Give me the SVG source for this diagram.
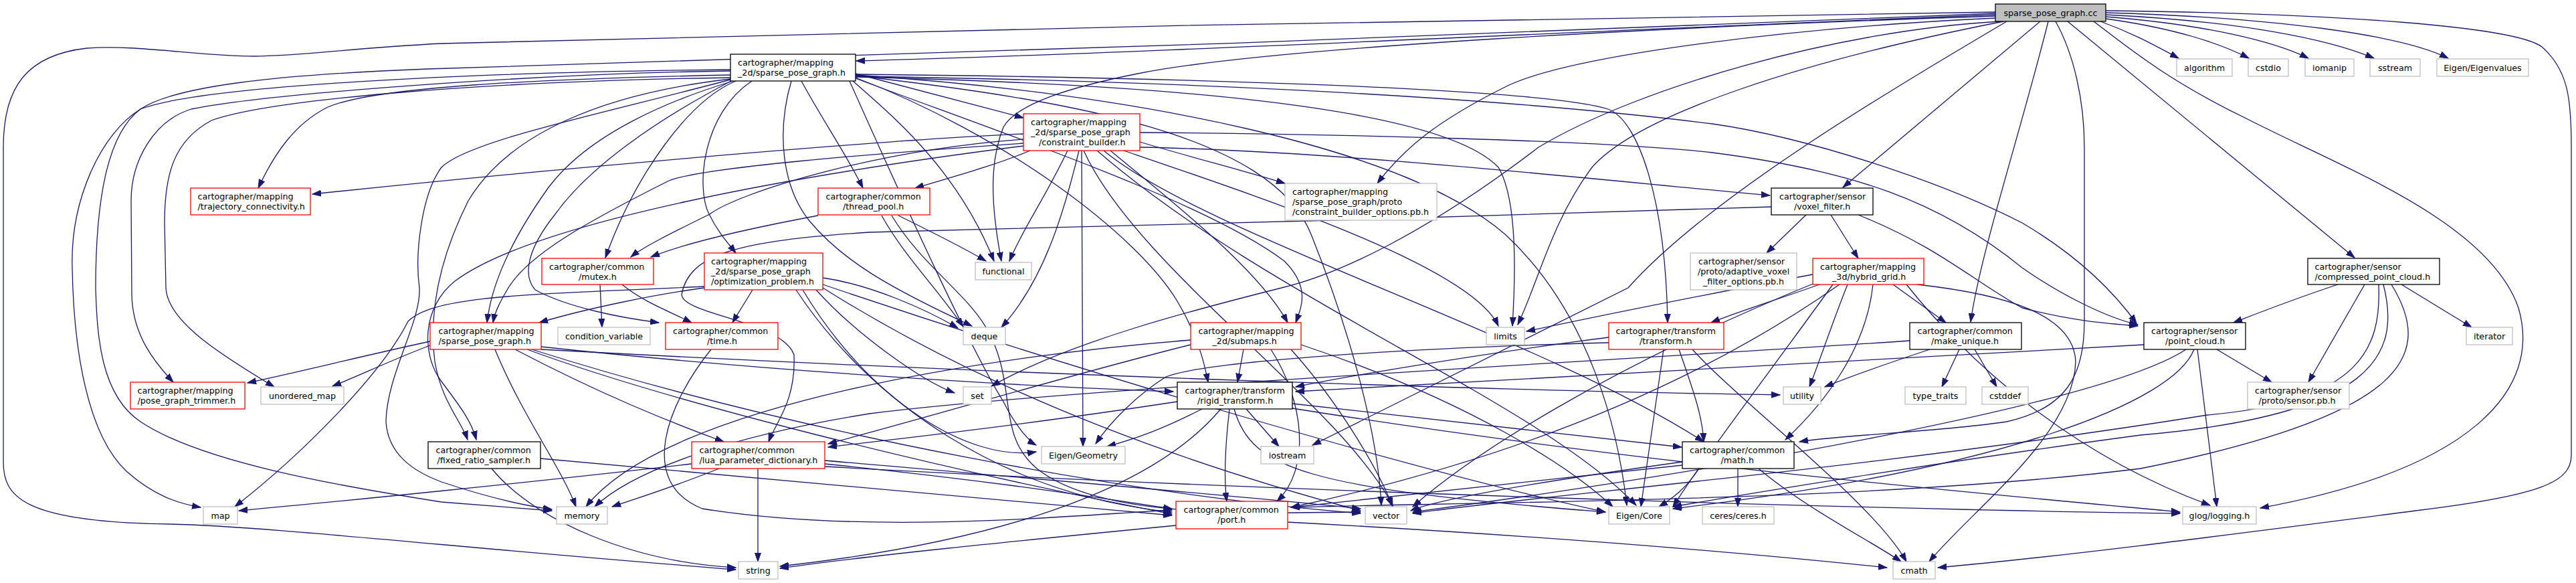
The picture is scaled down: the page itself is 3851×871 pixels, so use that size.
<svg xmlns="http://www.w3.org/2000/svg" width="3851" height="871" viewBox="0 0 3851 871">
<style>
.n rect{fill:#fff;stroke-width:1.3}
.r rect{stroke:#ff0000}
.b rect{stroke:#000}
.g rect{stroke:#bfbfbf}
text{font-family:"DejaVu Sans","Liberation Sans",sans-serif;font-size:12.7px;fill:#000}
.c{text-anchor:middle}
#edges path{fill:none;stroke:#191970;stroke-width:1.3;marker-end:url(#a)}
</style>
<defs>
<marker id="a" markerUnits="userSpaceOnUse" markerWidth="14" markerHeight="10" refX="13" refY="5" orient="auto"><path d="M0,0.5 L13,5 L0,9.5 z" fill="#191970" stroke="#191970" stroke-width="1"/></marker>
</defs>
<rect width="3851" height="871" fill="#fff"/>
<g id="edges">
<path d="M2983,22 C2400,45 1700,80 1280,91"/>
<path d="M2983,18 C2400,25 1300,45 660,65 C520,72 450,84 380,84 C300,84 200,66 130,72 C40,82 5,130 5,220 L5,690 C5,740 30,780 253,783 C400,786 700,820 1100,851"/>
<path d="M3140,32 C3190,50 3225,70 3257,87"/>
<path d="M3148,28 C3250,42 3320,65 3362,87"/>
<path d="M3148,25 C3300,37 3400,62 3451,87"/>
<path d="M3148,22 C3350,32 3480,58 3549,87"/>
<path d="M3148,19 C3400,26 3590,52 3660,87"/>
<path d="M3148,16 C3500,20 3760,40 3800,70 C3840,105 3844,150 3844,220 L3844,680 C3844,720 3800,740 3611,763 C3400,790 3100,830 2897,848"/>
<path d="M3130,32 C3180,70 3240,120 3358,177 C3500,250 3720,330 3765,460 C3800,580 3700,700 3379,759"/>
<path d="M3091,32 L3520,385"/>
<path d="M3050,32 L2755,280"/>
<path d="M3062,32 C3020,200 2960,380 2946,481"/>
<path d="M3073,32 C3100,80 3116,150 3116,220 L3116,480 C3116,560 3090,610 3000,630 C2900,645 2750,650 2690,660"/>
<path d="M2983,24 C2500,40 1900,70 1701,110 C1600,130 1520,155 1500,190 C1480,240 1480,300 1497,390"/>
<path d="M2983,27 C2700,40 2350,80 2250,130 C2150,180 2100,220 2059,274"/>
<path d="M2990,32 C2750,45 2450,130 2300,220 C2130,350 2000,410 1916,430 C1785,463 1600,510 1482,577"/>
<path d="M3000,32 C2800,150 2550,300 2434,430 L1962,665"/>
<path d="M2995,32 C2700,90 2450,170 2380,250 C2320,330 2300,420 2269,485"/>
<path d="M2983,20 C2300,50 1300,85 640,103 C400,112 260,130 210,163 C160,200 143,300 143,430 C145,500 150,590 210,630 C300,690 500,725 660,750 L825,763"/>
<path d="M1092,112 C800,118 560,130 490,160 C440,185 410,230 386,281"/>
<path d="M1092,106 C800,110 400,140 286,163 C230,180 196,240 196,300 L197,440 C198,500 230,540 259,571"/>
<path d="M1092,104 C700,108 300,128 210,163 C150,200 105,300 108,400 C110,520 130,650 190,705 C230,740 265,752 300,758"/>
<path d="M1092,116 C700,122 400,150 316,180 C260,210 246,260 246,333 L248,430 C250,480 330,530 410,578"/>
<path d="M1100,121 C1030,150 950,260 905,385"/>
<path d="M1198,121 C1230,180 1265,230 1290,281"/>
<path d="M1124,121 C1050,170 1040,280 1060,320 C1075,350 1090,365 1100,378"/>
<path d="M1279,110 L1530,176"/>
<path d="M1275,121 C1330,170 1430,250 1486,390"/>
<path d="M1183,121 C1160,200 1170,280 1210,330 C1260,390 1330,430 1453,487"/>
<path d="M1096,121 C1000,150 880,200 820,280 C770,350 735,420 728,482"/>
<path d="M1092,118 C900,140 760,200 700,300 C660,380 640,460 650,540 C660,600 690,630 699,657"/>
<path d="M1095,120 C980,180 880,250 830,320 C790,370 780,410 800,433 C850,460 930,475 985,482"/>
<path d="M1092,119 C900,170 700,210 660,250 C630,290 620,380 627,430 C630,480 578,560 577,630 C580,680 620,705 660,720 C720,740 780,755 825,761"/>
<path d="M1279,113 C1600,150 1900,200 1960,350 C2020,500 2060,650 2065,755"/>
<path d="M1279,112 C1700,140 2100,220 2250,350 C2380,470 2420,650 2432,755"/>
<path d="M1270,121 C1350,300 1450,520 1500,600 C1520,640 1540,660 1549,665"/>
<path d="M1279,114 C1700,120 2200,140 2560,185 C2700,205 2900,270 3023,333 C3120,390 3170,450 3194,483"/>
<path d="M1279,116 C1500,200 1700,350 1760,450 C1790,500 1800,540 1806,571"/>
<path d="M1279,111 C1700,115 2300,130 2404,163 C2450,180 2490,300 2493,482"/>
<path d="M1279,117 C1500,200 1800,300 1920,390 C1960,430 1945,460 1937,482"/>
<path d="M1279,115 C1700,125 2150,155 2240,250 C2270,300 2265,420 2261,487"/>
<path d="M1530,200 C1300,210 800,255 467,290"/>
<path d="M1540,225 C1480,250 1420,265 1368,281"/>
<path d="M1596,225 C1560,300 1530,340 1509,390"/>
<path d="M1617,225 L1619,667"/>
<path d="M1613,225 C1590,320 1560,420 1497,489"/>
<path d="M1704,212 C1780,235 1860,255 1921,274"/>
<path d="M1704,220 C2000,225 2400,270 2646,292"/>
<path d="M1704,198 C2000,200 2400,210 2560,228 C2770,255 2900,300 3023,400 C3080,440 3150,475 3196,485"/>
<path d="M1530,208 C1300,225 1100,290 1061,320 C1000,350 960,370 943,384"/>
<path d="M1530,214 C1300,230 1050,250 1000,270 C880,330 790,380 760,430 C748,450 740,465 737,482"/>
<path d="M1530,218 C1200,260 800,330 680,420 C630,460 630,530 660,570 C690,610 705,630 712,657"/>
<path d="M1650,225 C1800,350 2300,500 2547,660"/>
<path d="M1680,225 C1900,300 2200,400 2240,487"/>
<path d="M1620,225 C1700,400 2000,600 2082,755"/>
<path d="M1640,225 C1900,450 2300,600 2446,755"/>
<path d="M1660,225 C1750,300 1880,400 1925,482"/>
<path d="M1223,322 C1100,345 1020,365 973,384"/>
<path d="M1343,322 C1400,350 1440,370 1474,390"/>
<path d="M1318,322 C1350,380 1400,430 1440,488"/>
<path d="M1333,322 C1380,400 1450,440 1480,500 C1520,580 1490,650 1550,700 C1650,780 1900,765 2034,765"/>
<path d="M897,425 L900,489"/>
<path d="M930,425 C960,450 1000,465 1034,482"/>
<path d="M1125,433 C1115,450 1105,465 1095,482"/>
<path d="M1053,430 C980,440 880,460 806,482"/>
<path d="M1053,428 C800,440 650,440 610,480 C570,560 450,680 351,757"/>
<path d="M1230,415 C1300,425 1380,460 1432,490"/>
<path d="M1220,433 C1280,500 1380,570 1427,587"/>
<path d="M1230,430 C1500,600 1800,700 2034,763"/>
<path d="M1230,425 C1600,550 2100,700 2400,765"/>
<path d="M1200,433 C1300,600 1450,690 1549,675"/>
<path d="M1190,433 C1300,600 1500,740 1752,765"/>
<path d="M643,510 C550,530 450,555 370,572"/>
<path d="M643,516 C580,540 540,560 497,577"/>
<path d="M740,522 C780,620 840,700 861,757"/>
<path d="M770,522 C900,590 1000,630 1082,660"/>
<path d="M809,518 C1200,560 1600,580 1754,585"/>
<path d="M809,522 C1500,560 2300,585 2661,590"/>
<path d="M795,522 C1200,650 1700,740 2034,767"/>
<path d="M788,522 C1000,600 1400,700 1752,768"/>
<path d="M1063,522 C1000,600 950,720 1050,760 C1300,800 1600,770 1752,762"/>
<path d="M735,700 C800,780 950,840 1100,848"/>
<path d="M808,685 C1200,720 1500,750 1752,770"/>
<path d="M1034,693 C800,720 500,750 357,763"/>
<path d="M1075,700 C1000,730 950,745 915,757"/>
<path d="M1133,700 L1133,839"/>
<path d="M1233,688 C1600,720 1900,745 2034,760"/>
<path d="M1233,693 C1500,720 1650,745 1752,760"/>
<path d="M1233,697 C2000,740 3000,765 3259,767"/>
<path d="M1859,522 L1850,571"/>
<path d="M1780,515 C1600,560 1400,620 1238,663"/>
<path d="M1780,508 C1500,530 1000,600 876,757"/>
<path d="M1900,522 C1950,600 1960,700 1909,749"/>
<path d="M1930,522 C2000,600 2060,700 2082,757"/>
<path d="M1945,515 C2200,600 2350,700 2411,757"/>
<path d="M1797,611 C1740,640 1700,655 1655,667"/>
<path d="M1863,611 L1912,667"/>
<path d="M1838,611 C1830,680 1830,720 1834,749"/>
<path d="M1825,611 C1700,760 1400,820 1166,846"/>
<path d="M1760,600 C1500,640 1300,660 1238,668"/>
<path d="M1932,603 L2514,668"/>
<path d="M1845,611 C1870,700 1950,730 2400,765"/>
<path d="M1932,610 C2500,700 3000,740 3259,765"/>
<path d="M2405,504 C2200,530 2000,565 1937,578"/>
<path d="M2487,522 L2453,757"/>
<path d="M2510,522 C2530,580 2545,620 2547,660"/>
<path d="M2530,522 C2600,600 2800,750 2850,839"/>
<path d="M2405,512 C2100,520 1800,540 1743,563 C1700,590 1660,630 1638,663"/>
<path d="M2710,410 C2550,440 2400,470 2282,495"/>
<path d="M2720,425 C2650,450 2600,465 2558,482"/>
<path d="M2830,425 L2909,482"/>
<path d="M2762,425 C2740,480 2720,540 2705,578"/>
<path d="M2800,425 C2790,520 2730,600 2669,657"/>
<path d="M2866,425 C3000,440 3100,470 3103,540 C3100,650 2950,760 2884,839"/>
<path d="M2720,420 C2400,550 2200,680 2112,757"/>
<path d="M2740,425 C2650,550 2550,680 2501,757"/>
<path d="M2750,425 C2500,600 2200,700 1930,758"/>
<path d="M2850,425 C2950,550 3100,680 3304,755"/>
<path d="M2929,522 L2903,578"/>
<path d="M2952,522 L2985,578"/>
<path d="M2885,522 C2800,550 2760,565 2728,578"/>
<path d="M2855,509 C2400,540 1600,580 1300,618 C1100,650 950,700 889,757"/>
<path d="M2700,321 L2641,378"/>
<path d="M2737,321 L2778,386"/>
<path d="M2778,321 C2900,370 2950,420 3023,460 C3100,480 3150,483 3196,487"/>
<path d="M2648,309 C2300,320 1500,345 1300,347 C1100,360 1030,380 1019,440 C1020,470 1170,480 1187,530 C1190,600 1160,630 1149,660"/>
<path d="M2598,700 L2598,757"/>
<path d="M2629,700 C2700,760 2800,810 2842,839"/>
<path d="M2515,690 C2300,720 2150,745 2109,763"/>
<path d="M2540,700 C2520,730 2500,745 2480,757"/>
<path d="M2515,695 C2200,730 2000,750 1930,758"/>
<path d="M3314,522 L3396,571"/>
<path d="M3285,522 L3314,757"/>
<path d="M3268,522 C3150,600 2600,700 2112,765"/>
<path d="M3280,522 C3250,600 3000,700 2501,760"/>
<path d="M3205,515 C2700,540 2200,570 1937,585"/>
<path d="M3495,425 C3420,450 3370,470 3339,482"/>
<path d="M3535,425 L3451,571"/>
<path d="M3590,425 L3695,489"/>
<path d="M3556,425 C3560,520 3530,600 3300,620 C2800,700 2300,740 2112,767"/>
<path d="M3563,425 C3590,530 3550,620 3200,650 C2900,690 2600,740 2501,757"/>
<path d="M3575,425 C3640,530 3600,620 3200,700 C2800,750 2200,750 1930,758"/>
<path d="M1758,785 C1500,810 1300,830 1166,849"/>
<path d="M1924,780 C2300,800 2600,825 2821,848"/>
</g>
<g id="n_root" class="n b"><rect x="2983" y="6" width="165" height="26" style="fill:#bfbfbf"/><text class="c" x="3065.5" y="23.5">sparse_pose_graph.cc</text></g>
<g id="n_spg2d" class="n b"><rect x="1092" y="81" width="187" height="40"/><text x="1103" y="97.5">cartographer/mapping</text><text x="1103" y="112.5">_2d/sparse_pose_graph.h</text></g>
<g id="n_cb" class="n r"><rect x="1530" y="170" width="174" height="55"/><text x="1541" y="186.5">cartographer/mapping</text><text x="1541" y="201.5">_2d/sparse_pose_graph</text><text x="1553" y="216.5">/constraint_builder.h</text></g>
<g id="n_traj" class="n r"><rect x="285" y="281" width="179" height="40"/><text x="295.5" y="297.5">cartographer/mapping</text><text x="295.5" y="312.5">/trajectory_connectivity.h</text></g>
<g id="n_tp" class="n r"><rect x="1223" y="281" width="167" height="40"/><text x="1234.5" y="297.5">cartographer/common</text><text x="1260" y="312.5">/thread_pool.h</text></g>
<g id="n_cbo" class="n g"><rect x="1921" y="274" width="227" height="55"/><text x="1932" y="290.5">cartographer/mapping</text><text x="1932" y="305.5">/sparse_pose_graph/proto</text><text x="1932" y="320.5">/constraint_builder_options.pb.h</text></g>
<g id="n_vf" class="n b"><rect x="2648" y="281" width="152" height="40"/><text x="2660" y="297.5">cartographer/sensor</text><text x="2682" y="312.5">/voxel_filter.h</text></g>
<g id="n_mutex" class="n r"><rect x="810" y="386" width="167" height="39"/><text x="821" y="402.5">cartographer/common</text><text x="865" y="417.5">/mutex.h</text></g>
<g id="n_op" class="n r"><rect x="1053" y="378" width="177" height="55"/><text x="1063" y="394.5">cartographer/mapping</text><text x="1063" y="409.5">_2d/sparse_pose_graph</text><text x="1063" y="424.5">/optimization_problem.h</text></g>
<g id="n_avf" class="n g"><rect x="2527" y="378" width="159" height="55"/><text x="2539" y="394.5">cartographer/sensor</text><text x="2538" y="409.5">/proto/adaptive_voxel</text><text x="2546" y="424.5">_filter_options.pb.h</text></g>
<g id="n_hg" class="n r"><rect x="2710" y="386" width="166" height="39"/><text x="2721" y="402.5">cartographer/mapping</text><text x="2739" y="417.5">_3d/hybrid_grid.h</text></g>
<g id="n_cpc" class="n b"><rect x="3450" y="386" width="197" height="39"/><text x="3460.5" y="402.5">cartographer/sensor</text><text x="3460.5" y="417.5">/compressed_point_cloud.h</text></g>
<g id="n_algorithm" class="n g"><rect x="3254" y="88" width="83" height="26"/><text class="c" x="3295.5" y="105.5">algorithm</text></g>
<g id="n_cstdio" class="n g"><rect x="3361" y="88" width="60" height="26"/><text class="c" x="3391" y="105.5">cstdio</text></g>
<g id="n_iomanip" class="n g"><rect x="3446" y="88" width="73" height="26"/><text class="c" x="3482.5" y="105.5">iomanip</text></g>
<g id="n_sstream" class="n g"><rect x="3543" y="88" width="75" height="26"/><text class="c" x="3580.5" y="105.5">sstream</text></g>
<g id="n_eigenvalues" class="n g"><rect x="3643" y="88" width="137" height="26"/><text class="c" x="3711.5" y="105.5">Eigen/Eigenvalues</text></g>
<g id="n_mspg" class="n r"><rect x="643" y="482" width="166" height="40"/><text x="655.5" y="498.5">cartographer/mapping</text><text x="655.5" y="513.5">/sparse_pose_graph.h</text></g>
<g id="n_condvar" class="n g"><rect x="834" y="489" width="138" height="26"/><text class="c" x="903" y="506.5">condition_variable</text></g>
<g id="n_time" class="n r"><rect x="995" y="482" width="168" height="40"/><text x="1006" y="498.5">cartographer/common</text><text x="1057" y="513.5">/time.h</text></g>
<g id="n_submaps" class="n r"><rect x="1780" y="482" width="165" height="40"/><text x="1791.5" y="498.5">cartographer/mapping</text><text x="1812.5" y="513.5">_2d/submaps.h</text></g>
<g id="n_transform" class="n r"><rect x="2405" y="482" width="172" height="40"/><text x="2415.5" y="498.5">cartographer/transform</text><text x="2451" y="513.5">/transform.h</text></g>
<g id="n_make_unique" class="n b"><rect x="2855" y="482" width="167" height="40"/><text x="2866.5" y="498.5">cartographer/common</text><text x="2887" y="513.5">/make_unique.h</text></g>
<g id="n_point_cloud" class="n b"><rect x="3205" y="482" width="152" height="40"/><text x="3216" y="498.5">cartographer/sensor</text><text x="3237" y="513.5">/point_cloud.h</text></g>
<g id="n_iterator" class="n g"><rect x="3687" y="489" width="69" height="26"/><text class="c" x="3721.5" y="506.5">iterator</text></g>
<g id="n_deque" class="n g"><rect x="1440" y="489" width="63" height="26"/><text class="c" x="1471.5" y="506.5">deque</text></g>
<g id="n_limits" class="n g"><rect x="2222" y="489" width="57" height="26"/><text class="c" x="2250.5" y="506.5">limits</text></g>
<g id="n_pgt" class="n r"><rect x="195" y="571" width="171" height="40"/><text x="205.5" y="587.5">cartographer/mapping</text><text x="205.5" y="602.5">/pose_graph_trimmer.h</text></g>
<g id="n_unordered_map" class="n g"><rect x="390" y="578" width="124" height="26"/><text class="c" x="452" y="595.5">unordered_map</text></g>
<g id="n_set" class="n g"><rect x="1440" y="578" width="42" height="26"/><text class="c" x="1461" y="595.5">set</text></g>
<g id="n_rigid" class="n b"><rect x="1760" y="571" width="172" height="40"/><text x="1771.5" y="587.5">cartographer/transform</text><text x="1790" y="602.5">/rigid_transform.h</text></g>
<g id="n_utility" class="n g"><rect x="2666" y="578" width="56" height="26"/><text class="c" x="2694" y="595.5">utility</text></g>
<g id="n_type_traits" class="n g"><rect x="2848" y="578" width="91" height="26"/><text class="c" x="2893.5" y="595.5">type_traits</text></g>
<g id="n_cstddef" class="n g"><rect x="2963" y="578" width="69" height="26"/><text class="c" x="2997.5" y="595.5">cstddef</text></g>
<g id="n_sensor_pb" class="n g"><rect x="3360" y="571" width="152" height="40"/><text x="3371" y="587.5">cartographer/sensor</text><text x="3376.5" y="602.5">/proto/sensor.pb.h</text></g>
<g id="n_frs" class="n b"><rect x="640" y="660" width="168" height="40"/><text x="651.5" y="676.5">cartographer/common</text><text x="653.5" y="691.5">/fixed_ratio_sampler.h</text></g>
<g id="n_lua" class="n r"><rect x="1034" y="660" width="199" height="40"/><text x="1045.5" y="676.5">cartographer/common</text><text x="1045.5" y="691.5">/lua_parameter_dictionary.h</text></g>
<g id="n_geometry" class="n g"><rect x="1557" y="667" width="125" height="26"/><text class="c" x="1619.5" y="684.5">Eigen/Geometry</text></g>
<g id="n_iostream" class="n g"><rect x="1885" y="667" width="79" height="26"/><text class="c" x="1924.5" y="684.5">iostream</text></g>
<g id="n_math" class="n b"><rect x="2515" y="660" width="167" height="40"/><text x="2526" y="676.5">cartographer/common</text><text x="2572.5" y="691.5">/math.h</text></g>
<g id="n_memory" class="n g"><rect x="832" y="757" width="76" height="26"/><text class="c" x="870" y="774.5">memory</text></g>
<g id="n_map" class="n g"><rect x="304" y="757" width="51" height="26"/><text class="c" x="329.5" y="774.5">map</text></g>
<g id="n_vector" class="n g"><rect x="2041" y="757" width="62" height="26"/><text class="c" x="2072" y="774.5">vector</text></g>
<g id="n_core" class="n g"><rect x="2405" y="757" width="91" height="26"/><text class="c" x="2450.5" y="774.5">Eigen/Core</text></g>
<g id="n_ceres" class="n g"><rect x="2545" y="757" width="107" height="26"/><text class="c" x="2598.5" y="774.5">ceres/ceres.h</text></g>
<g id="n_glog" class="n g"><rect x="3263" y="757" width="110" height="26"/><text class="c" x="3318" y="774.5">glog/logging.h</text></g>
<g id="n_port" class="n r"><rect x="1758" y="749" width="167" height="41"/><text x="1769.5" y="765.5">cartographer/common</text><text x="1820" y="780.5">/port.h</text></g>
<g id="n_string" class="n g"><rect x="1104" y="839" width="59" height="26"/><text class="c" x="1133.5" y="856.5">string</text></g>
<g id="n_cmath" class="n g"><rect x="2830" y="839" width="63" height="26"/><text class="c" x="2861.5" y="856.5">cmath</text></g>
<g id="n_functional" class="n g"><rect x="1458" y="392" width="84" height="26"/><text class="c" x="1500" y="409.5">functional</text></g>
</svg>
